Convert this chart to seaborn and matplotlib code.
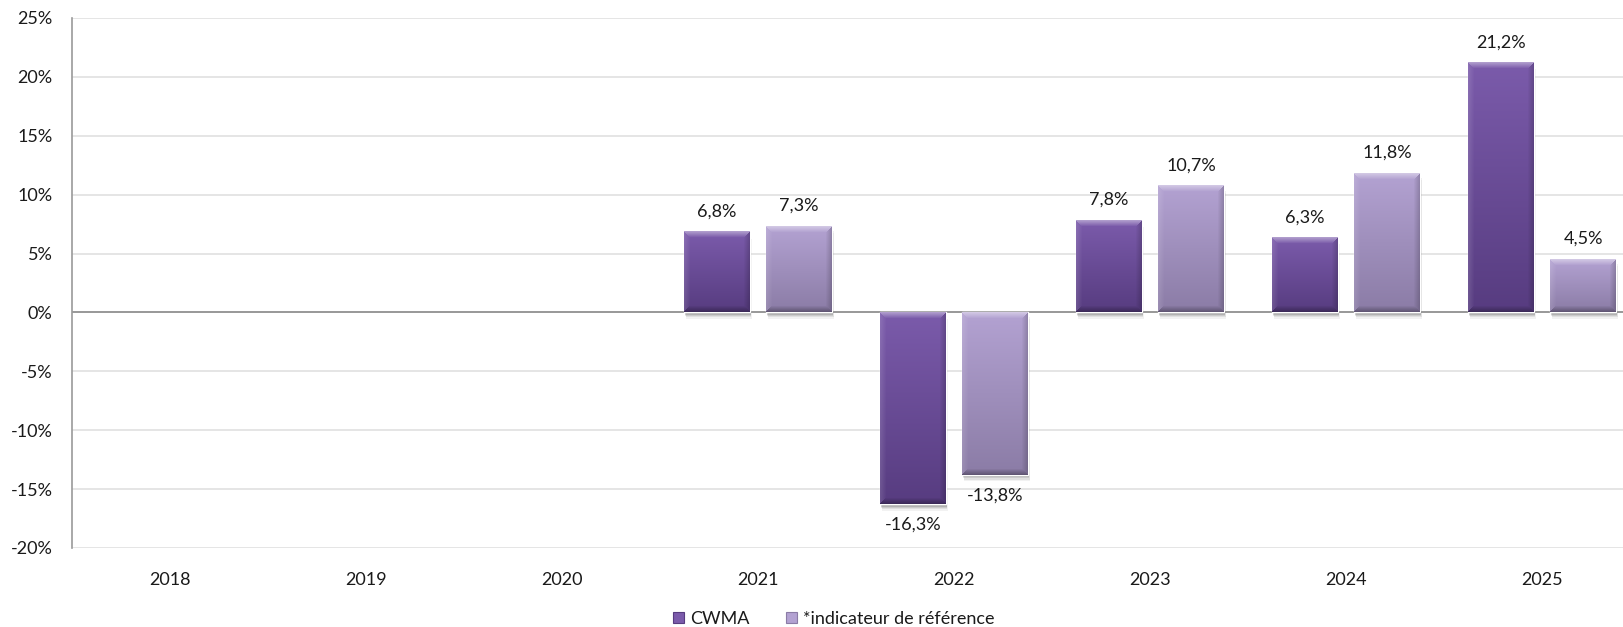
import numpy as np
import pandas as pd
import matplotlib
matplotlib.use("Agg")
import matplotlib.pyplot as plt
import seaborn as sns
from matplotlib import patheffects as pe
from matplotlib.patches import Patch
from matplotlib.colors import to_rgb

# Annual performance, in percent
years = ["2018", "2019", "2020", "2021", "2022", "2023", "2024", "2025"]
perf_years = ["2021", "2022", "2023", "2024", "2025"]
cwma = [6.8, -16.3, 7.8, 6.3, 21.2]
benchmark = [7.3, -13.8, 10.7, 11.8, 4.5]
series = ["CWMA", "*indicateur de référence"]
y_ticks = [-20, -15, -10, -5, 0, 5, 10, 15, 20, 25]

# Gradient colours (top, bottom) for each series
base_colors = ["#6a4b98", "#9f8fbe"]
grad = {
    0: ("#7b5bab", "#573c80"),
    1: ("#b3a2d2", "#8b7ca6"),
}

sns.set_theme(style="white")
plt.rcParams["font.family"] = ["Lato", "DejaVu Sans"]
TEXT = "#1a1a1a"

df = pd.DataFrame({
    "Année": perf_years * 2,
    "Performance": cwma + benchmark,
    "Série": [series[0]] * len(cwma) + [series[1]] * len(benchmark),
})

W, H = 1624, 627
fig = plt.figure(figsize=(W / 100, H / 100), dpi=100)
ax = fig.add_axes([72 / W, 79 / H, 1568 / W, 530 / H])

sns.barplot(data=df, x="Année", y="Performance", hue="Série",
            order=years, hue_order=series, palette=base_colors,
            width=0.84, gap=0.2, errorbar=None, legend=False, ax=ax,
            zorder=3)

ax.set_xlim(-0.5, len(years) - 0.5)
ax.set_ylim(-20, 25)
ax.set_yticks(y_ticks)
ax.set_yticklabels([f"{t}%" for t in y_ticks])
ax.set_xlabel("")
ax.set_ylabel("")
ax.yaxis.grid(True, color="#dedede", lw=1.1)
ax.xaxis.grid(False)
ax.set_axisbelow(True)
ax.axhline(0, color="#8c8c8c", lw=1.2, zorder=2)
for s in ["top", "right", "bottom"]:
    ax.spines[s].set_visible(False)
ax.spines["left"].set_color("#9a9a9a")
ax.spines["left"].set_linewidth(1.2)
ax.tick_params(axis="both", length=0, labelsize=13, colors=TEXT)
ax.tick_params(axis="y", pad=14)
ax.tick_params(axis="x", pad=17)


def bevel_image(top, bottom, wp, hp, b=6):
    top, bottom = np.array(to_rgb(top)), np.array(to_rgb(bottom))
    t = np.linspace(0, 1, hp)[:, None, None]
    img = top * (1 - t) + bottom * t
    img = np.repeat(img, wp, axis=1)
    r = np.arange(hp)[:, None]
    c = np.arange(wp)[None, :]
    dt = np.broadcast_to(r, (hp, wp)).astype(float)
    db = np.broadcast_to(hp - 1 - r, (hp, wp)).astype(float)
    dl = np.broadcast_to(c, (hp, wp)).astype(float)
    dr = np.broadcast_to(wp - 1 - c, (hp, wp)).astype(float)
    d = np.stack([dt, db, dl, dr])
    which = d.argmin(axis=0)
    dmin = d.min(axis=0)
    f = np.clip(1 - dmin / b, 0, 1)[..., None]
    white, black = np.ones(3), np.zeros(3)
    out = img.copy()
    mix = [(white, 0.40), (black, 0.30), (white, 0.12), (black, 0.18)]
    for k, (col, a) in enumerate(mix):
        m = (which == k)[..., None]
        out = np.where(m, out * (1 - a * f) + col * (a * f), out)
    return np.clip(out, 0, 1)


# Soft drop shadow built from stacked translucent offsets
shadow = [
    pe.SimplePatchShadow(offset=(o[0], o[1]), shadow_rgbFace="#000000", alpha=a)
    for o, a in [((1.5, -4.5), 0.05), ((1.2, -3.5), 0.07), ((0.9, -2.5), 0.09), ((0.6, -1.5), 0.12)]
]

fig.canvas.draw()
for i, cont in enumerate(ax.containers):
    for p in cont.patches:
        h = p.get_height()
        if not np.isfinite(h) or h == 0:
            continue
        x0, y0, w = p.get_x(), p.get_y(), p.get_width()
        (px0, py0), (px1, py1) = ax.transData.transform([(x0, y0), (x0 + w, y0 + h)])
        wp = max(int(round(abs(px1 - px0))), 2)
        hp = max(int(round(abs(py1 - py0))), 2)
        img = bevel_image(*grad[i], wp, hp)
        lo, hi = min(y0, y0 + h), max(y0, y0 + h)
        ax.imshow(img, extent=(x0, x0 + w, lo, hi), origin="upper",
                  aspect="auto", interpolation="bilinear", zorder=3.5)
        p.set_path_effects(shadow + [pe.Normal()])
    ax.bar_label(cont, fmt=lambda v: f"{v:.1f}%".replace(".", ","),
                 padding=9, fontsize=13, color=TEXT)

ax.set_xlim(-0.5, len(years) - 0.5)
ax.set_ylim(-20, 25)

handles = [Patch(facecolor=grad[k][0], edgecolor=grad[k][1], lw=0.8) for k in range(2)]
fig.legend(handles, series, loc="center", bbox_to_anchor=(834 / W, 1 - 619 / H),
           ncol=2, frameon=False, fontsize=13, handlelength=0.6, handleheight=0.6,
           handletextpad=0.35, columnspacing=2.0, labelcolor=TEXT)

fig.savefig("out.png", dpi=100)
